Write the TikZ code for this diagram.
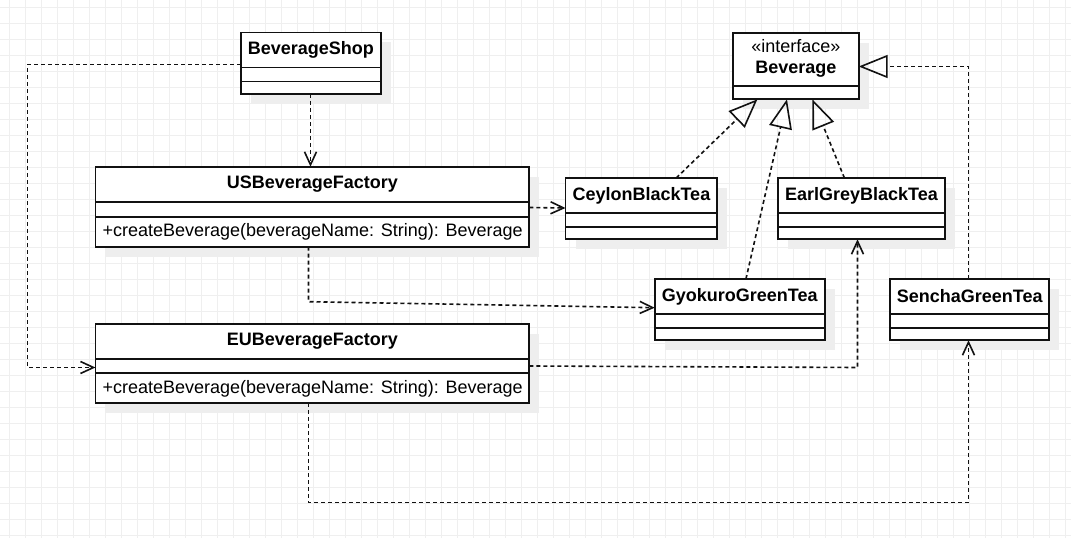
\documentclass[tikz,border=0pt]{standalone}
\usepackage{fontspec}
\setmainfont{Liberation Sans}
\usetikzlibrary{arrows.meta,calc}
\definecolor{gridc}{HTML}{EFEFEF}
\definecolor{shadowc}{HTML}{EEEEEE}
\definecolor{inkc}{HTML}{111111}
\tikzset{
  classbox/.style={draw=inkc, line width=1.7bp, fill=white, inner sep=0pt, outer sep=0pt},
  classline/.style={draw=inkc, line width=1.7bp},
  titletext/.style={font=\bfseries\fontsize{18bp}{21bp}\selectfont, inner sep=0pt, align=center},
  membertext/.style={font=\fontsize{18bp}{21bp}\selectfont, inner sep=0pt, anchor=west},
  conn/.style={draw=inkc, line width=1.6bp, dash pattern=on 4bp off 3bp},
  dep/.style={conn, -{Straight Barb[length=13bp,width=12bp]}},
  real/.style={conn, -{Triangle[open,length=29bp,width=23bp]}},
}
\newcommand{\umlclass}[6]{%
  \fill[shadowc] (#2+10,#3+10) rectangle (#2+#4+10,#3+#5+10);
  \node[classbox, minimum width=#4bp, minimum height=#5bp, anchor=north west] (#1) at (#2,#3) {};
  \node[titletext] (#1-t) at ($(#1.north)+(0,17.5)$) {#6};
}
\newcommand{\hdiv}[2]{\draw[classline] ($(#1.north west)+(0,#2)$) -- ($(#1.north east)+(0,#2)$);}
\begin{document}
\begin{tikzpicture}[x=1bp,y=-1bp]
\useasboundingbox (0,0) rectangle (1071,538);
\fill[white] (0,0) rectangle (1071,538);
% grid
\foreach \gx in {0,...,66} {\draw[gridc, line width=1bp] (9.5+16*\gx,0) -- (9.5+16*\gx,538);}
\foreach \gy in {0,...,33} {\draw[gridc, line width=1bp] (0,7.5+16*\gy) -- (1071,7.5+16*\gy);}

% classes
\umlclass{bs}{240.7}{32.5}{140.3}{61.5}{BeverageShop}
\hdiv{bs}{35}\hdiv{bs}{49}

\fill[shadowc] (733+10,32.7+10) rectangle (858.7+10,99.3+10);
\node[classbox, minimum width=125.7bp, minimum height=66.6bp, anchor=north west] (bev) at (733,32.7) {};
\node[inner sep=0pt, align=center, font=\fontsize{18bp}{21bp}\selectfont] (bev-t) at ($(bev.north)+(0,25.3)$) {«interface»\\\textbf{Beverage}};
\hdiv{bev}{53}

\umlclass{us}{95.4}{166.7}{433.9}{80}{USBeverageFactory}
\hdiv{us}{35.3}\hdiv{us}{50}
\node[membertext] (us-m) at ($(us.north west)+(7,65)$) {+createBeverage(beverageName: String): Beverage};

\umlclass{eu}{95.4}{324}{433.9}{79.3}{EUBeverageFactory}
\hdiv{eu}{35}\hdiv{eu}{49.3}
\node[membertext] (eu-m) at ($(eu.north west)+(7,64.5)$) {+createBeverage(beverageName: String): Beverage};

\umlclass{cey}{565.5}{178}{151.8}{61.3}{CeylonBlackTea}
\hdiv{cey}{34.7}\hdiv{cey}{49.3}

\umlclass{eg}{778}{178}{167}{61.3}{EarlGreyBlackTea}
\hdiv{eg}{34.7}\hdiv{eg}{49.3}

\umlclass{gyo}{654.7}{279}{170.1}{61.3}{GyokuroGreenTea}
\hdiv{gyo}{34.7}\hdiv{gyo}{49}

\umlclass{sen}{890}{279}{159.3}{61.3}{SenchaGreenTea}
\hdiv{sen}{34.7}\hdiv{sen}{49}

% connectors
\coordinate (bs-b) at ($(bs.south)+(-0.35,0)$);
\draw[dep] (bs-b) -- (bs-b |- us.north);
\coordinate (bs-l) at ($(bs.north west)+(0,32)$);
\coordinate (eu-l) at ($(eu.north west)+(0,43.5)$);
\draw[dep] (bs-l) -- ++(-213.2,0) |- (eu-l);
\draw[dep] ($(us.north east)+(0,40.8)$) -- ($(cey.north west)+(0,30)$);
\coordinate (us-b) at ($(us.south)+(-3.85,0)$);
\draw[dep] (us-b) -- ++(0,55) -- ($(gyo.north west)+(0,28.7)$);
\coordinate (eg-b) at ($(eg.south)+(-4,0)$);
\draw[dep] ($(eu.north east)+(0,42)$) -- ($(eg-b)+(0,128.2)$) -- (eg-b);
\coordinate (eu-b) at ($(eu.south)+(-3.85,0)$);
\coordinate (sen-b) at ($(sen.south)+(-1.15,0)$);
\draw[dep] (eu-b) -- ++(0,99.2) -| (sen-b);

\coordinate (sen-t) at ($(sen.north)+(-1.15,0)$);
\coordinate (bev-r) at ($(bev.east)+(0,0.5)$);
\draw[real] (sen-t) |- (bev-r);
\draw[real] ($(cey.north)+(34.8,0)$) -- ($(bev.south)+(-38.4,0)$);
\draw[real] ($(gyo.north)+(6.2,0)$) -- ($(bev.south)+(-8.9,0)$);
\draw[real] ($(eg.north)+(-17.1,0)$) -- ($(bev.south)+(16.5,0)$);
\end{tikzpicture}
\end{document}
